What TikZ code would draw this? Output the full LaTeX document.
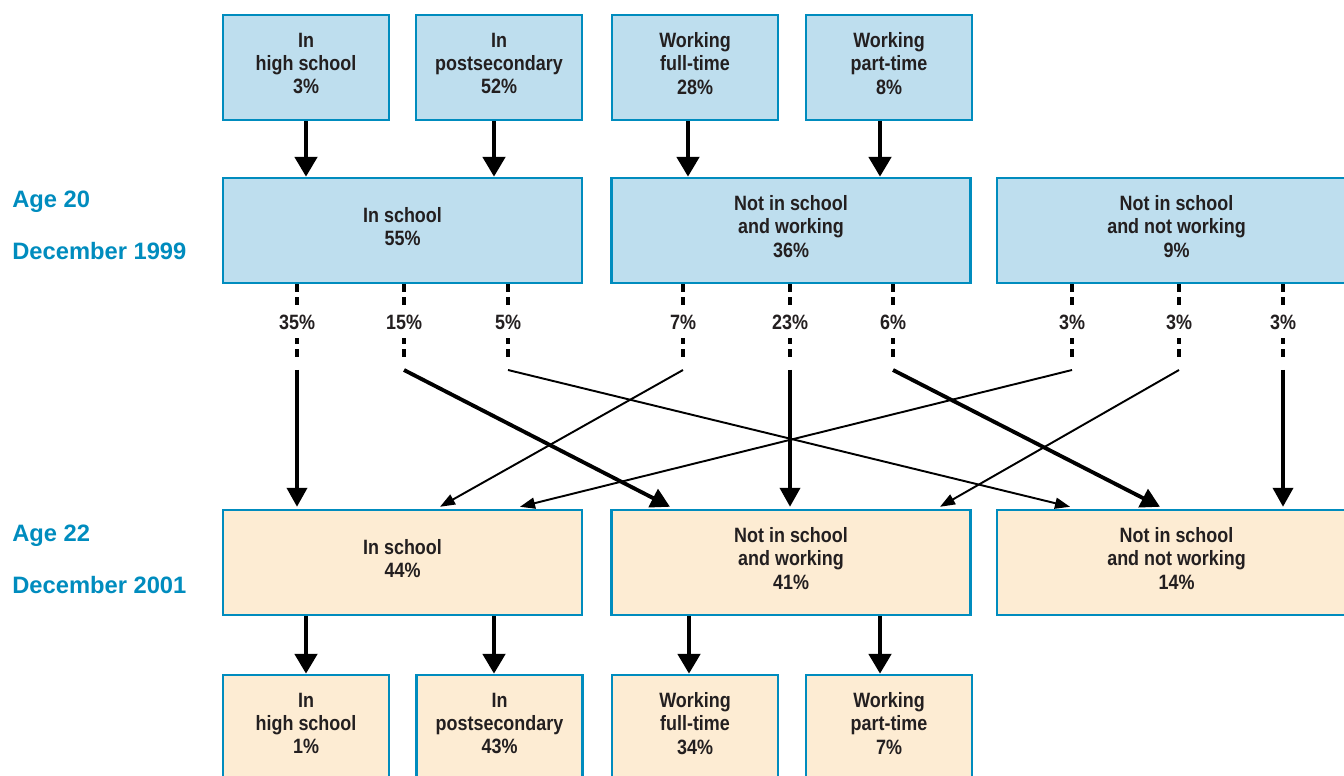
\documentclass[tikz,border=0pt]{standalone}
\usepackage{fontspec}
\setmainfont{Liberation Sans}
\newfontfamily\condfont[FakeStretch=0.865]{Liberation Sans}
\usetikzlibrary{arrows.meta,positioning}
\definecolor{edgeblue}{RGB}{0,140,190}
\definecolor{fillblue}{RGB}{190,222,238}
\definecolor{fillbeige}{RGB}{253,236,211}
\definecolor{textgrey}{RGB}{35,31,32}

\begin{document}
\begin{tikzpicture}[x=0.02cm, y=-0.02cm,
    font={\fontsize{11.8}{13.3}\condfont\bfseries}, text=textgrey,
    b/.style={rectangle, draw=edgeblue, line width=1.4pt, align=center, inner sep=0pt,
              minimum height=2.1cm, text depth=4.8pt},
    sbox/.style={b, minimum width=3.32cm},
    wbox/.style={b, minimum width=7.18cm},
    yr/.style={font={\fontsize{13.5}{16}\selectfont\bfseries}, text=edgeblue, anchor=base west, inner sep=0pt},
    pct/.style={fill=white, inner xsep=1.5pt, inner ysep=5pt, text=textgrey},
    dashln/.style={line width=1.8pt, dash pattern=on 0.16cm off 0.1cm},
    bigarrow/.style={line width=2.8pt, -{Triangle[width=0.44cm,length=0.4cm]}},
    thickflow/.style={line width=2.2pt, -{Triangle[width=0.4cm,length=0.38cm]}},
    thinflow/.style={line width=1.1pt, -{Triangle[width=0.22cm,length=0.3cm]}}]
\useasboundingbox (0,0) rectangle (1344,776);
\clip (0,0) rectangle (1344,776);

% Age 20 status
\node[sbox, fill=fillblue] (hs1) at (306,67.5) {In\\high school\\3\%};
\node[sbox, fill=fillblue] (ps1) at (499,67.5) {In\\postsecondary\\52\%};
\node[sbox, fill=fillblue] (ft1) at (695,67.5) {Working\\full-time\\28\%};
\node[sbox, fill=fillblue] (pt1) at (889,67.5) {Working\\part-time\\8\%};
\node[wbox, fill=fillblue] (school1) at (402.5,230.5) {In school\\55\%};
\node[wbox, fill=fillblue] (work1) at (791,230.5) {Not in school\\and working\\36\%};
\node[wbox, fill=fillblue] (nowork1) at (1176.5,230.5) {Not in school\\and not working\\9\%};

% Age 22 status
\node[wbox, fill=fillbeige] (school2) at (402.5,562.5) {In school\\44\%};
\node[wbox, fill=fillbeige] (work2) at (791,562.5) {Not in school\\and working\\41\%};
\node[wbox, fill=fillbeige] (nowork2) at (1176.5,562.5) {Not in school\\and not working\\14\%};
\node[sbox, fill=fillbeige] (hs2) at (306,727.5) {In\\high school\\1\%};
\node[sbox, fill=fillbeige] (ps2) at (499.5,727.5) {In\\postsecondary\\43\%};
\node[sbox, fill=fillbeige] (ft2) at (695,727.5) {Working\\full-time\\34\%};
\node[sbox, fill=fillbeige] (pt2) at (889,727.5) {Working\\part-time\\7\%};

% side labels
\node[yr] (age20) at (12,208) {Age 20};
\node[yr] (dec99) at (12,260) {December 1999};
\node[yr] (age22) at (12,541) {Age 22};
\node[yr] (dec01) at (12,593) {December 2001};

% breakdown arrows
\draw[bigarrow] (hs1.south) -- (hs1.south |- school1.north);
\draw[bigarrow] ([xshift=-0.1cm]ps1.south) -- ([xshift=-0.1cm]ps1.south |- school1.north);
\draw[bigarrow] ([xshift=-0.14cm]ft1.south) -- ([xshift=-0.14cm]ft1.south |- work1.north);
\draw[bigarrow] ([xshift=-0.18cm]pt1.south) -- ([xshift=-0.18cm]pt1.south |- work1.north);
\draw[bigarrow] (school2.south -| hs2.north) -- (hs2.north);
\draw[bigarrow] (school2.south -| 494,0) -- (ps2.north -| 494,0);
\draw[bigarrow] (work2.south -| 689,0) -- (ft2.north -| 689,0);
\draw[bigarrow] (work2.south -| 880,0) -- (pt2.north -| 880,0);

% transitions 1999 -> 2001
\foreach \i/\x/\p/\src/\tx/\tgt/\w in {
    1/297/35/school1/297/school2/thickflow, 2/404/15/school1/670/work2/thickflow,
    3/508/5/school1/1070/nowork2/thinflow, 4/683/7/work1/440/school2/thinflow,
    5/790/23/work1/790/work2/thickflow, 6/893/6/work1/1160/nowork2/thickflow,
    7/1072/3/nowork1/520/school2/thinflow, 8/1179/3/nowork1/940/work2/thinflow,
    9/1283/3/nowork1/1283/nowork2/thickflow} {
  \draw[dashln] (\src.south -| \x,0) -- node[pct] {\p\%} (\x,360) coordinate (d\i);
  \draw[\w] (\x,370) coordinate (s\i) -- ([yshift=0.04cm]\tgt.north -| \tx,0);
}
\end{tikzpicture}
\end{document}
